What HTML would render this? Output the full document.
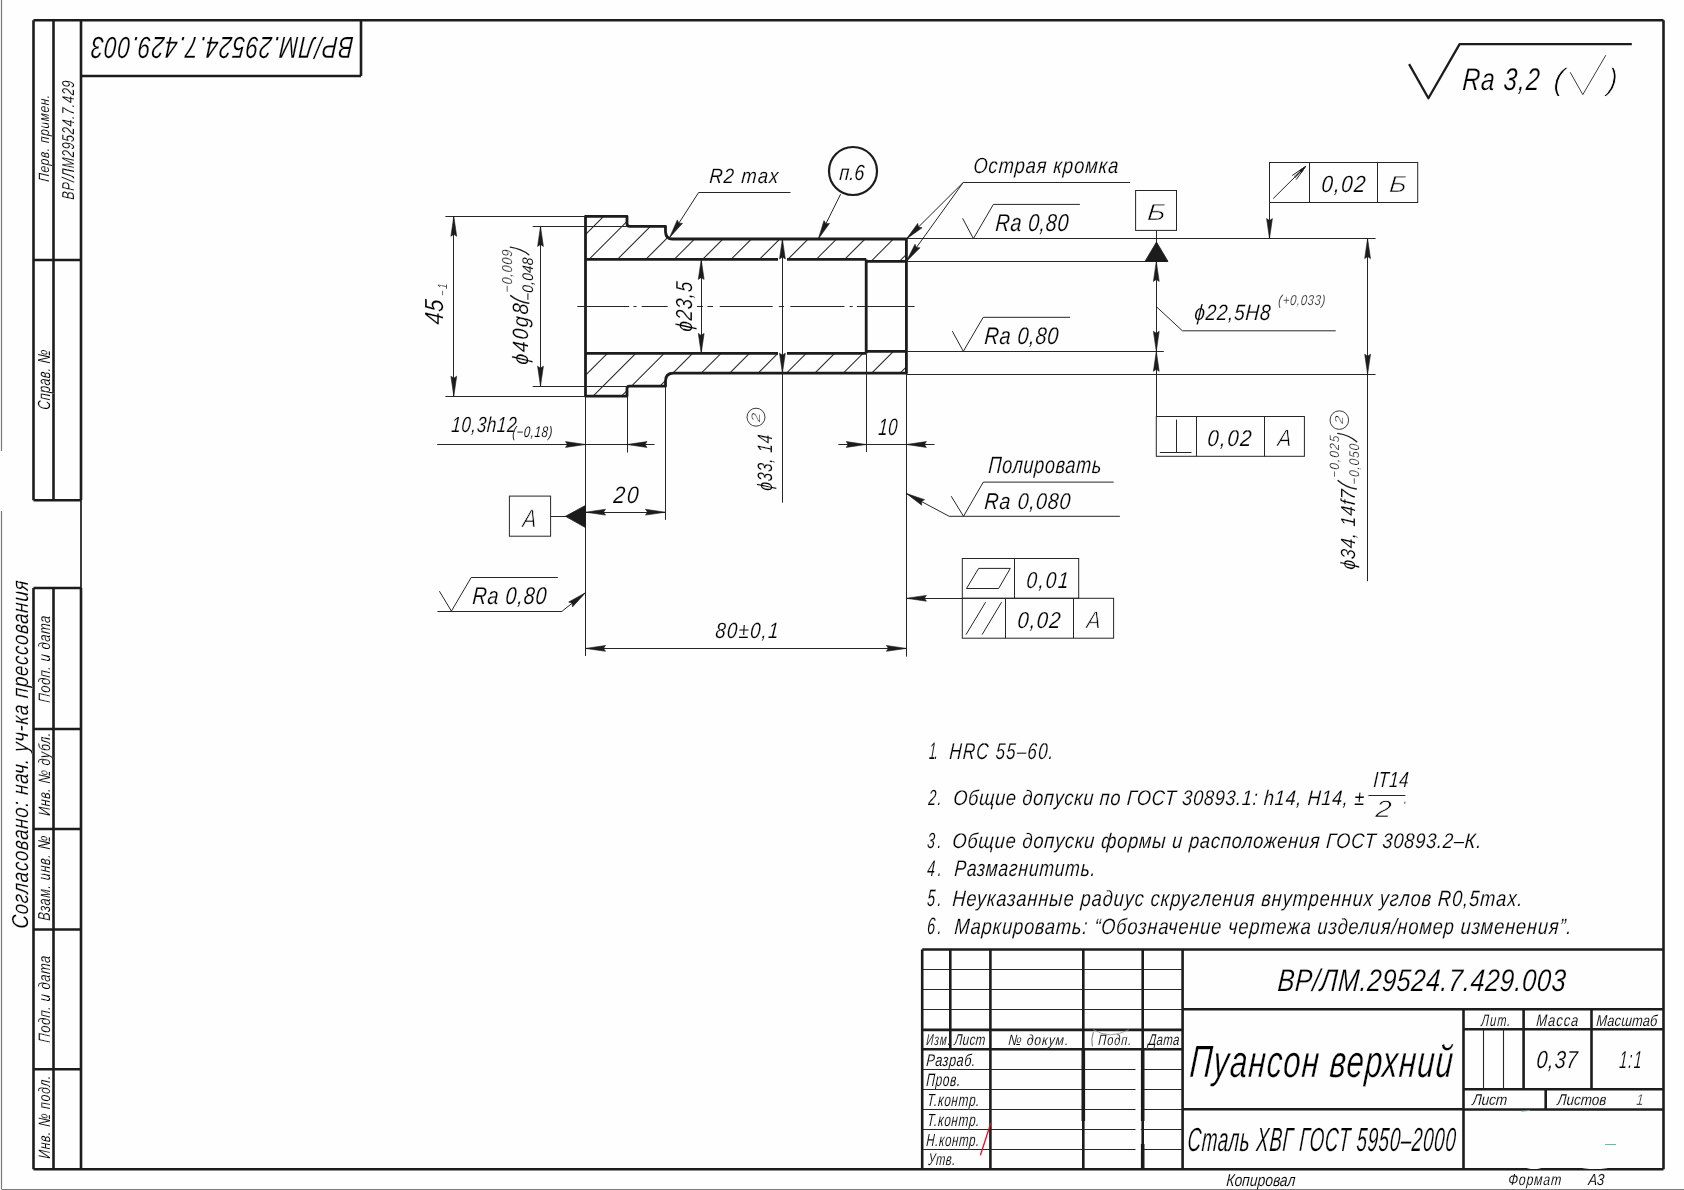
<!DOCTYPE html>
<html><head><meta charset="utf-8"><title>Drawing</title>
<style>
html,body{margin:0;padding:0;background:#fff;overflow:hidden;width:1684px;height:1190px;}
svg{display:block;will-change:transform;}
text{font-family:"Liberation Sans",sans-serif;stroke:#fefefe;paint-order:fill;}
</style></head>
<body>
<svg width="1684" height="1190" viewBox="0 0 1684 1190">
<rect x="0" y="0" width="1684" height="1190" fill="#fefefe"/>
<line x1="1.5" y1="0.0" x2="1.5" y2="451.0" stroke="#7a7a7a" stroke-width="1.2"/>
<line x1="1.5" y1="511.0" x2="1.5" y2="1189.0" stroke="#7a7a7a" stroke-width="1.2"/>
<line x1="1.5" y1="1189.5" x2="1684.0" y2="1189.5" stroke="#7a7a7a" stroke-width="1.2"/>
<line x1="81.0" y1="20.3" x2="1663.5" y2="20.3" stroke="#1c1c1c" stroke-width="2.6"/>
<line x1="1663.5" y1="20.3" x2="1663.5" y2="1169.3" stroke="#1c1c1c" stroke-width="2.6"/>
<line x1="81.0" y1="1169.3" x2="1663.5" y2="1169.3" stroke="#1c1c1c" stroke-width="2.6"/>
<line x1="81.0" y1="20.3" x2="81.0" y2="500.0" stroke="#1c1c1c" stroke-width="2.6"/>
<line x1="81.0" y1="500.0" x2="81.0" y2="588.0" stroke="#262626" stroke-width="1.8"/>
<line x1="81.0" y1="588.0" x2="81.0" y2="1169.3" stroke="#1c1c1c" stroke-width="2.6"/>
<line x1="361.0" y1="20.3" x2="361.0" y2="76.0" stroke="#1c1c1c" stroke-width="2.6"/>
<line x1="81.0" y1="76.0" x2="361.0" y2="76.0" stroke="#1c1c1c" stroke-width="2.6"/>
<line x1="33.5" y1="20.3" x2="81.0" y2="20.3" stroke="#1c1c1c" stroke-width="2.6"/>
<line x1="33.5" y1="20.3" x2="33.5" y2="500.3" stroke="#1c1c1c" stroke-width="2.6"/>
<line x1="53.5" y1="20.3" x2="53.5" y2="500.3" stroke="#1c1c1c" stroke-width="2.6"/>
<line x1="33.5" y1="260.0" x2="81.0" y2="260.0" stroke="#1c1c1c" stroke-width="2.6"/>
<line x1="33.5" y1="500.3" x2="81.0" y2="500.3" stroke="#1c1c1c" stroke-width="2.6"/>
<line x1="33.5" y1="588.0" x2="81.0" y2="588.0" stroke="#1c1c1c" stroke-width="2.6"/>
<line x1="33.5" y1="588.0" x2="33.5" y2="1169.3" stroke="#1c1c1c" stroke-width="2.6"/>
<line x1="53.5" y1="588.0" x2="53.5" y2="1169.3" stroke="#1c1c1c" stroke-width="2.6"/>
<line x1="33.5" y1="729.0" x2="81.0" y2="729.0" stroke="#1c1c1c" stroke-width="2.6"/>
<line x1="33.5" y1="829.0" x2="81.0" y2="829.0" stroke="#1c1c1c" stroke-width="2.6"/>
<line x1="33.5" y1="929.5" x2="81.0" y2="929.5" stroke="#1c1c1c" stroke-width="2.6"/>
<line x1="33.5" y1="1069.2" x2="81.0" y2="1069.2" stroke="#1c1c1c" stroke-width="2.6"/>
<line x1="33.5" y1="1169.3" x2="81.0" y2="1169.3" stroke="#1c1c1c" stroke-width="2.6"/>
<line x1="922.2" y1="949.5" x2="1663.5" y2="949.5" stroke="#1c1c1c" stroke-width="2.6"/>
<line x1="922.2" y1="949.5" x2="922.2" y2="1169.3" stroke="#1c1c1c" stroke-width="2.6"/>
<line x1="950.3" y1="949.5" x2="950.3" y2="1049.2" stroke="#1c1c1c" stroke-width="2.6"/>
<line x1="990.4" y1="949.5" x2="990.4" y2="1169.3" stroke="#1c1c1c" stroke-width="2.6"/>
<line x1="1083.3" y1="949.5" x2="1083.3" y2="1169.3" stroke="#1c1c1c" stroke-width="2.6"/>
<line x1="1142.7" y1="949.5" x2="1142.7" y2="1169.3" stroke="#1c1c1c" stroke-width="2.6"/>
<line x1="1182.6" y1="949.5" x2="1182.6" y2="1169.3" stroke="#1c1c1c" stroke-width="2.6"/>
<line x1="922.2" y1="969.5" x2="1182.6" y2="969.5" stroke="#262626" stroke-width="1.1"/>
<line x1="922.2" y1="989.5" x2="1182.6" y2="989.5" stroke="#262626" stroke-width="1.1"/>
<line x1="922.2" y1="1009.5" x2="1182.6" y2="1009.5" stroke="#262626" stroke-width="1.1"/>
<line x1="922.2" y1="1029.9" x2="1182.6" y2="1029.9" stroke="#1c1c1c" stroke-width="2.6"/>
<line x1="922.2" y1="1049.2" x2="1182.6" y2="1049.2" stroke="#1c1c1c" stroke-width="2.6"/>
<line x1="922.2" y1="1069.5" x2="1182.6" y2="1069.5" stroke="#262626" stroke-width="1.1"/>
<line x1="922.2" y1="1089.5" x2="1182.6" y2="1089.5" stroke="#262626" stroke-width="1.1"/>
<line x1="922.2" y1="1109.5" x2="1182.6" y2="1109.5" stroke="#262626" stroke-width="1.1"/>
<line x1="922.2" y1="1129.5" x2="1182.6" y2="1129.5" stroke="#262626" stroke-width="1.1"/>
<line x1="922.2" y1="1149.5" x2="1182.6" y2="1149.5" stroke="#262626" stroke-width="1.1"/>
<line x1="1182.6" y1="1009.3" x2="1663.5" y2="1009.3" stroke="#1c1c1c" stroke-width="2.6"/>
<line x1="1182.6" y1="1109.3" x2="1463.5" y2="1109.3" stroke="#1c1c1c" stroke-width="2.6"/>
<line x1="1463.5" y1="1009.3" x2="1463.5" y2="1169.3" stroke="#1c1c1c" stroke-width="2.6"/>
<line x1="1463.5" y1="1029.3" x2="1663.5" y2="1029.3" stroke="#1c1c1c" stroke-width="2.6"/>
<line x1="1463.5" y1="1089.3" x2="1663.5" y2="1089.3" stroke="#1c1c1c" stroke-width="2.6"/>
<line x1="1463.5" y1="1109.5" x2="1663.5" y2="1109.5" stroke="#1c1c1c" stroke-width="2.6"/>
<line x1="1523.6" y1="1009.3" x2="1523.6" y2="1089.3" stroke="#1c1c1c" stroke-width="2.6"/>
<line x1="1591.5" y1="1009.3" x2="1591.5" y2="1089.3" stroke="#1c1c1c" stroke-width="2.6"/>
<line x1="1483.5" y1="1029.3" x2="1483.5" y2="1089.3" stroke="#262626" stroke-width="1.1"/>
<line x1="1503.5" y1="1029.3" x2="1503.5" y2="1089.3" stroke="#262626" stroke-width="1.1"/>
<line x1="1545.7" y1="1089.3" x2="1545.7" y2="1109.5" stroke="#1c1c1c" stroke-width="2.6"/>
<line x1="1083.3" y1="1050.0" x2="1083.3" y2="1121.0" stroke="#1c1c1c" stroke-width="3.6"/>
<line x1="1142.7" y1="1050.0" x2="1142.7" y2="1121.0" stroke="#1c1c1c" stroke-width="3.6"/>
<line x1="1142.7" y1="1144.0" x2="1142.7" y2="1169.0" stroke="#1c1c1c" stroke-width="3.6"/>
<rect x="1135.5" y="1067.7" width="5.3" height="3" fill="#fefefe"/>
<rect x="1135.5" y="1087.6" width="5.3" height="3" fill="#fefefe"/>
<rect x="1135.5" y="1107.6" width="5.3" height="3" fill="#fefefe"/>
<rect x="1135.5" y="1127.5" width="5.3" height="3" fill="#fefefe"/>
<rect x="1135.5" y="1148.1" width="5.3" height="3" fill="#fefefe"/>
<path d="M1093.5,1029.8 Q1110,1040 1128.5,1029.8" fill="none" stroke="#8a8a90" stroke-width="0.8" stroke-linejoin="round" stroke-linecap="round"/>
<path d="M1093.2,1032.5 Q1090.8,1039 1092.3,1046" fill="none" stroke="#555" stroke-width="0.8" stroke-linejoin="round" stroke-linecap="round"/>
<ellipse cx="1534" cy="1167.2" rx="8" ry="1.9" fill="#fefefe"/>
<ellipse cx="1595" cy="1167.2" rx="14" ry="1.9" fill="#fefefe"/>
<line x1="1605.0" y1="1144.5" x2="1616.0" y2="1144.5" stroke="#6aa898" stroke-width="0.9"/>
<line x1="1521.5" y1="1111.3" x2="1530.0" y2="1110.3" stroke="#6aa898" stroke-width="0.9"/>
<line x1="980.4" y1="1155.3" x2="990.9" y2="1122.7" stroke="#e01020" stroke-width="1.3"/>
<defs><clipPath id="cT"><path d="M585.5,216.3 L627.0,216.3 L627.0,223.4 Q627.0,226.4 630.0,226.4 L665.5,226.4 L665.5,231.9 Q665.9,239.2 672.7,239.0 L906.4,239.0 L906.4,261.4 L866.2,261.4 L866.2,259.4 L585.5,259.4 Z"/></clipPath><clipPath id="cB"><path d="M585.5,353.4 L866.2,353.4 L866.2,351.3 L906.4,351.3 L906.4,373.2 L673.5,373.2 Q665.5,373.2 665.5,381.2 L665.5,386.2 L629.5,386.2 Q627.0,386.2 627.0,388.7 L627.0,396.2 L585.5,396.2 Z"/></clipPath></defs>
<g clip-path="url(#cT)" stroke="#262626" stroke-width="1.05"><line x1="613.2" y1="150" x2="313.2" y2="450"/><line x1="641.6" y1="150" x2="341.6" y2="450"/><line x1="670.0" y1="150" x2="370.0" y2="450"/><line x1="698.4" y1="150" x2="398.4" y2="450"/><line x1="726.8" y1="150" x2="426.8" y2="450"/><line x1="755.2" y1="150" x2="455.2" y2="450"/><line x1="783.6" y1="150" x2="483.6" y2="450"/><line x1="812.0" y1="150" x2="512.0" y2="450"/><line x1="840.4" y1="150" x2="540.4" y2="450"/><line x1="868.8" y1="150" x2="568.8" y2="450"/><line x1="897.2" y1="150" x2="597.2" y2="450"/><line x1="925.6" y1="150" x2="625.6" y2="450"/><line x1="954.0" y1="150" x2="654.0" y2="450"/><line x1="982.4" y1="150" x2="682.4" y2="450"/><line x1="1010.8" y1="150" x2="710.8" y2="450"/><line x1="1039.2" y1="150" x2="739.2" y2="450"/></g>
<g clip-path="url(#cB)" stroke="#262626" stroke-width="1.05"><line x1="725.6" y1="150" x2="425.6" y2="450"/><line x1="754.0" y1="150" x2="454.0" y2="450"/><line x1="782.4" y1="150" x2="482.4" y2="450"/><line x1="810.8" y1="150" x2="510.8" y2="450"/><line x1="839.2" y1="150" x2="539.2" y2="450"/><line x1="867.6" y1="150" x2="567.6" y2="450"/><line x1="896.0" y1="150" x2="596.0" y2="450"/><line x1="924.4" y1="150" x2="624.4" y2="450"/><line x1="952.8" y1="150" x2="652.8" y2="450"/><line x1="981.2" y1="150" x2="681.2" y2="450"/><line x1="1009.6" y1="150" x2="709.6" y2="450"/><line x1="1038.0" y1="150" x2="738.0" y2="450"/><line x1="1066.4" y1="150" x2="766.4" y2="450"/><line x1="1094.8" y1="150" x2="794.8" y2="450"/><line x1="1123.2" y1="150" x2="823.2" y2="450"/><line x1="1151.6" y1="150" x2="851.6" y2="450"/><line x1="1180.0" y1="150" x2="880.0" y2="450"/></g>
<path d="M585.5,216.3 L627.0,216.3 L627.0,223.4 Q627.0,226.4 630.0,226.4 L665.5,226.4 L665.5,231.9 Q665.9,239.2 672.7,239.0 L906.4,239.0 L906.4,373.2 L673.5,373.2 Q665.5,373.2 665.5,381.2 L665.5,386.2 L629.5,386.2 Q627.0,386.2 627.0,388.7 L627.0,396.2 L585.5,396.2 Z" fill="none" stroke="#1c1c1c" stroke-width="2.8" stroke-linejoin="round" stroke-linecap="round"/>
<line x1="585.5" y1="259.4" x2="866.2" y2="259.4" stroke="#1c1c1c" stroke-width="2.8"/>
<line x1="585.5" y1="353.4" x2="866.2" y2="353.4" stroke="#1c1c1c" stroke-width="2.8"/>
<line x1="866.2" y1="259.4" x2="866.2" y2="353.4" stroke="#1c1c1c" stroke-width="2.8"/>
<line x1="866.2" y1="261.4" x2="906.4" y2="261.4" stroke="#1c1c1c" stroke-width="2.8"/>
<line x1="866.2" y1="351.3" x2="906.4" y2="351.3" stroke="#1c1c1c" stroke-width="2.8"/>
<line x1="577.3" y1="306.5" x2="629.2" y2="306.5" stroke="#262626" stroke-width="1.0"/>
<line x1="633.4" y1="306.5" x2="636.5" y2="306.5" stroke="#262626" stroke-width="1.0"/>
<line x1="641.7" y1="306.5" x2="667.7" y2="306.5" stroke="#262626" stroke-width="1.0"/>
<line x1="697.0" y1="306.5" x2="703.0" y2="306.5" stroke="#262626" stroke-width="1.0"/>
<line x1="707.5" y1="306.5" x2="713.0" y2="306.5" stroke="#262626" stroke-width="1.0"/>
<line x1="719.7" y1="306.5" x2="772.7" y2="306.5" stroke="#262626" stroke-width="1.0"/>
<line x1="778.9" y1="306.5" x2="784.0" y2="306.5" stroke="#262626" stroke-width="1.0"/>
<line x1="790.3" y1="306.5" x2="844.4" y2="306.5" stroke="#262626" stroke-width="1.0"/>
<line x1="849.6" y1="306.5" x2="852.7" y2="306.5" stroke="#262626" stroke-width="1.0"/>
<line x1="856.9" y1="306.5" x2="914.5" y2="306.5" stroke="#262626" stroke-width="1.0"/>
<line x1="445.4" y1="216.5" x2="585.5" y2="216.5" stroke="#262626" stroke-width="1.0"/>
<line x1="445.4" y1="396.5" x2="585.5" y2="396.5" stroke="#262626" stroke-width="1.0"/>
<line x1="453.5" y1="216.3" x2="453.5" y2="396.2" stroke="#262626" stroke-width="1.0"/>
<polygon points="453.8,216.3 456.7,236.3 453.8,234.3 450.9,236.3" fill="#1c1c1c" stroke="#1c1c1c" stroke-width="0.6" stroke-linejoin="round"/>
<polygon points="453.8,396.2 450.9,376.2 453.8,378.2 456.7,376.2" fill="#1c1c1c" stroke="#1c1c1c" stroke-width="0.6" stroke-linejoin="round"/>
<line x1="532.7" y1="226.5" x2="627.0" y2="226.5" stroke="#262626" stroke-width="1.0"/>
<line x1="532.7" y1="386.5" x2="627.0" y2="386.5" stroke="#262626" stroke-width="1.0"/>
<line x1="540.5" y1="226.4" x2="540.5" y2="386.2" stroke="#262626" stroke-width="1.0"/>
<polygon points="540.5,226.4 543.4,246.4 540.5,244.4 537.6,246.4" fill="#1c1c1c" stroke="#1c1c1c" stroke-width="0.6" stroke-linejoin="round"/>
<polygon points="540.5,386.2 537.6,366.2 540.5,368.2 543.4,366.2" fill="#1c1c1c" stroke="#1c1c1c" stroke-width="0.6" stroke-linejoin="round"/>
<line x1="701.5" y1="259.4" x2="701.5" y2="353.4" stroke="#262626" stroke-width="1.0"/>
<polygon points="701.2,259.4 704.1,279.4 701.2,277.4 698.3,279.4" fill="#1c1c1c" stroke="#1c1c1c" stroke-width="0.6" stroke-linejoin="round"/>
<polygon points="701.2,353.4 698.3,333.4 701.2,335.4 704.1,333.4" fill="#1c1c1c" stroke="#1c1c1c" stroke-width="0.6" stroke-linejoin="round"/>
<rect x="778.0" y="257.2" width="9" height="4.4" fill="#fefefe"/>
<rect x="778.0" y="351.2" width="9" height="4.4" fill="#fefefe"/>
<line x1="782.5" y1="239.0" x2="782.5" y2="502.7" stroke="#262626" stroke-width="1.0"/>
<polygon points="782.4,239.0 785.3,259.0 782.4,257.0 779.5,259.0" fill="#1c1c1c" stroke="#1c1c1c" stroke-width="0.6" stroke-linejoin="round"/>
<polygon points="782.4,373.2 779.5,353.2 782.4,355.2 785.3,353.2" fill="#1c1c1c" stroke="#1c1c1c" stroke-width="0.6" stroke-linejoin="round"/>
<line x1="906.4" y1="238.5" x2="1375.6" y2="238.5" stroke="#262626" stroke-width="1.0"/>
<line x1="906.4" y1="261.5" x2="1167.5" y2="261.5" stroke="#262626" stroke-width="1.0"/>
<line x1="906.4" y1="351.5" x2="1163.8" y2="351.5" stroke="#262626" stroke-width="1.0"/>
<line x1="906.4" y1="374.5" x2="1375.6" y2="374.5" stroke="#262626" stroke-width="1.0"/>
<line x1="1156.5" y1="261.4" x2="1156.5" y2="416.5" stroke="#262626" stroke-width="1.0"/>
<polygon points="1156.3,261.4 1159.2,281.4 1156.3,279.4 1153.4,281.4" fill="#1c1c1c" stroke="#1c1c1c" stroke-width="0.6" stroke-linejoin="round"/>
<polygon points="1156.3,351.3 1153.4,331.3 1156.3,333.3 1159.2,331.3" fill="#1c1c1c" stroke="#1c1c1c" stroke-width="0.6" stroke-linejoin="round"/>
<polygon points="1156.3,351.3 1159.2,371.3 1156.3,369.3 1153.4,371.3" fill="#1c1c1c" stroke="#1c1c1c" stroke-width="0.6" stroke-linejoin="round"/>
<polyline points="1156.3,306.6 1182.4,330.8 1335.7,330.8" fill="none" stroke="#262626" stroke-width="1.0" stroke-linejoin="round"/>
<line x1="1367.5" y1="238.6" x2="1367.5" y2="581.2" stroke="#262626" stroke-width="1.0"/>
<polygon points="1367.6,238.6 1370.5,258.6 1367.6,256.6 1364.7,258.6" fill="#1c1c1c" stroke="#1c1c1c" stroke-width="0.6" stroke-linejoin="round"/>
<polygon points="1367.6,374.2 1364.7,354.2 1367.6,356.2 1370.5,354.2" fill="#1c1c1c" stroke="#1c1c1c" stroke-width="0.6" stroke-linejoin="round"/>
<rect x="1135.6" y="190.5" width="40.9" height="39.9" fill="none" stroke="#262626" stroke-width="1.0"/>
<line x1="1156.5" y1="230.4" x2="1156.5" y2="244.0" stroke="#262626" stroke-width="1.0"/>
<polygon points="1156.5,242.0 1145.0,261.4 1168.0,261.4" fill="#1c1c1c" stroke="#1c1c1c" stroke-width="0.8" stroke-linejoin="round"/>
<rect x="1269.5" y="162.5" width="148.2" height="40.0" fill="none" stroke="#262626" stroke-width="1.0"/>
<line x1="1309.5" y1="162.5" x2="1309.5" y2="202.5" stroke="#262626" stroke-width="1.0"/>
<line x1="1377.5" y1="162.5" x2="1377.5" y2="202.5" stroke="#262626" stroke-width="1.0"/>
<line x1="1273.2" y1="198.6" x2="1305.5" y2="166.5" stroke="#262626" stroke-width="1.0"/>
<polyline points="1292.2,175.5 1305.5,166.5 1296.3,179.6" fill="none" stroke="#262626" stroke-width="1.0" stroke-linejoin="round"/>
<polyline points="1294.0,176.6 1305.5,166.5 1295.2,178.0" fill="none" stroke="#262626" stroke-width="0.6" stroke-linejoin="round"/>
<polygon points="1305.5,166.5 1299.6,170.4 1301.6,172.4" fill="#1c1c1c" stroke="#1c1c1c" stroke-width="0.6" stroke-linejoin="round"/>
<line x1="1269.5" y1="202.5" x2="1269.5" y2="238.6" stroke="#262626" stroke-width="1.0"/>
<polygon points="1269.5,238.6 1266.6,218.6 1269.5,220.6 1272.4,218.6" fill="#1c1c1c" stroke="#1c1c1c" stroke-width="0.6" stroke-linejoin="round"/>
<polyline points="962.6,218.3 973.4,238.6 993.4,204.4 1079.9,204.4" fill="none" stroke="#262626" stroke-width="1.0" stroke-linejoin="round"/>
<line x1="963.3" y1="182.5" x2="1130.0" y2="182.5" stroke="#262626" stroke-width="1.0"/>
<line x1="963.3" y1="182.4" x2="906.4" y2="239.0" stroke="#262626" stroke-width="1.0"/>
<line x1="963.3" y1="182.4" x2="906.4" y2="261.4" stroke="#262626" stroke-width="1.0"/>
<polygon points="906.4,239.0 917.7,223.4 918.5,227.0 922.1,227.8" fill="#1c1c1c" stroke="#1c1c1c" stroke-width="0.6" stroke-linejoin="round"/>
<polygon points="906.4,261.4 915.0,244.2 916.3,247.6 920.0,247.8" fill="#1c1c1c" stroke="#1c1c1c" stroke-width="0.6" stroke-linejoin="round"/>
<line x1="698.6" y1="192.5" x2="790.5" y2="192.5" stroke="#262626" stroke-width="1.0"/>
<line x1="698.6" y1="192.5" x2="669.6" y2="237.6" stroke="#262626" stroke-width="1.0"/>
<polygon points="669.6,237.6 677.3,219.9 678.8,223.3 682.5,223.3" fill="#1c1c1c" stroke="#1c1c1c" stroke-width="0.6" stroke-linejoin="round"/>
<circle cx="853" cy="171" r="24" fill="none" stroke="#1c1c1c" stroke-width="2.2"/>
<line x1="840.6" y1="194.2" x2="818.3" y2="239.0" stroke="#262626" stroke-width="1.0"/>
<polygon points="818.3,239.0 824.0,220.6 825.9,223.8 829.5,223.4" fill="#1c1c1c" stroke="#1c1c1c" stroke-width="0.6" stroke-linejoin="round"/>
<polyline points="952.3,331.2 963.3,351.3 983.2,317.3 1070.1,317.3" fill="none" stroke="#262626" stroke-width="1.0" stroke-linejoin="round"/>
<rect x="1156.3" y="416.5" width="148.1" height="39.8" fill="none" stroke="#262626" stroke-width="1.0"/>
<line x1="1196.5" y1="416.5" x2="1196.5" y2="456.3" stroke="#262626" stroke-width="1.0"/>
<line x1="1264.5" y1="416.5" x2="1264.5" y2="456.3" stroke="#262626" stroke-width="1.0"/>
<line x1="1176.5" y1="419.6" x2="1176.5" y2="452.2" stroke="#262626" stroke-width="1.0"/>
<line x1="1159.8" y1="452.5" x2="1191.5" y2="452.5" stroke="#262626" stroke-width="1.0"/>
<line x1="627.5" y1="396.2" x2="627.5" y2="452.5" stroke="#262626" stroke-width="1.0"/>
<line x1="585.5" y1="396.2" x2="585.5" y2="656.0" stroke="#262626" stroke-width="1.0"/>
<line x1="437.2" y1="444.5" x2="654.5" y2="444.5" stroke="#262626" stroke-width="1.0"/>
<polygon points="585.5,444.5 565.5,447.4 567.5,444.5 565.5,441.6" fill="#1c1c1c" stroke="#1c1c1c" stroke-width="0.6" stroke-linejoin="round"/>
<polygon points="627.0,444.5 647.0,441.6 645.0,444.5 647.0,447.4" fill="#1c1c1c" stroke="#1c1c1c" stroke-width="0.6" stroke-linejoin="round"/>
<line x1="866.5" y1="353.4" x2="866.5" y2="452.0" stroke="#262626" stroke-width="1.0"/>
<line x1="906.5" y1="373.2" x2="906.5" y2="656.6" stroke="#262626" stroke-width="1.0"/>
<line x1="838.3" y1="444.5" x2="934.5" y2="444.5" stroke="#262626" stroke-width="1.0"/>
<polygon points="866.2,444.5 846.2,447.4 848.2,444.5 846.2,441.6" fill="#1c1c1c" stroke="#1c1c1c" stroke-width="0.6" stroke-linejoin="round"/>
<polygon points="906.4,444.5 926.4,441.6 924.4,444.5 926.4,447.4" fill="#1c1c1c" stroke="#1c1c1c" stroke-width="0.6" stroke-linejoin="round"/>
<line x1="665.5" y1="386.2" x2="665.5" y2="519.9" stroke="#262626" stroke-width="1.0"/>
<line x1="585.5" y1="512.5" x2="665.5" y2="512.5" stroke="#262626" stroke-width="1.0"/>
<polygon points="585.5,512.2 605.5,509.3 603.5,512.2 605.5,515.1" fill="#1c1c1c" stroke="#1c1c1c" stroke-width="0.6" stroke-linejoin="round"/>
<polygon points="665.5,512.2 645.5,515.1 647.5,512.2 645.5,509.3" fill="#1c1c1c" stroke="#1c1c1c" stroke-width="0.6" stroke-linejoin="round"/>
<rect x="509.4" y="496.1" width="41.2" height="40.1" fill="none" stroke="#262626" stroke-width="1.0"/>
<line x1="550.6" y1="516.5" x2="567.0" y2="516.5" stroke="#262626" stroke-width="1.0"/>
<polygon points="565.5,516.3 585.5,505.4 585.5,527.6" fill="#1c1c1c" stroke="#1c1c1c" stroke-width="0.8" stroke-linejoin="round"/>
<polyline points="949.2,516.3 1119.9,516.3" fill="none" stroke="#262626" stroke-width="1.0" stroke-linejoin="round"/>
<line x1="906.4" y1="493.5" x2="949.2" y2="516.3" stroke="#262626" stroke-width="1.0"/>
<polygon points="906.4,493.5 924.6,499.7 921.4,501.5 921.7,505.2" fill="#1c1c1c" stroke="#1c1c1c" stroke-width="0.6" stroke-linejoin="round"/>
<polyline points="951.2,496.2 963.5,516.3 983.3,482.1 1113.7,482.1" fill="none" stroke="#262626" stroke-width="1.0" stroke-linejoin="round"/>
<line x1="437.5" y1="611.5" x2="562.2" y2="611.5" stroke="#262626" stroke-width="1.0"/>
<line x1="562.2" y1="611.1" x2="585.5" y2="592.7" stroke="#262626" stroke-width="1.0"/>
<polygon points="585.5,592.7 572.5,606.9 572.2,603.2 568.7,602.0" fill="#1c1c1c" stroke="#1c1c1c" stroke-width="0.6" stroke-linejoin="round"/>
<polyline points="439.4,591.2 451.4,611.1 471.2,577.5 557.8,577.5" fill="none" stroke="#262626" stroke-width="1.0" stroke-linejoin="round"/>
<rect x="962.3" y="558.5" width="116.4" height="39.8" fill="none" stroke="#262626" stroke-width="1.0"/>
<line x1="1014.5" y1="558.5" x2="1014.5" y2="598.3" stroke="#262626" stroke-width="1.0"/>
<polygon points="966.5,588.5 978.6,568.4 1010.3,568.4 998.6,588.5" fill="none" stroke="#262626" stroke-width="1.0" stroke-linejoin="round"/>
<rect x="962.3" y="598.3" width="151.3" height="39.9" fill="none" stroke="#262626" stroke-width="1.0"/>
<line x1="1005.5" y1="598.3" x2="1005.5" y2="638.2" stroke="#262626" stroke-width="1.0"/>
<line x1="1073.5" y1="598.3" x2="1073.5" y2="638.2" stroke="#262626" stroke-width="1.0"/>
<line x1="966.0" y1="634.6" x2="985.6" y2="602.2" stroke="#262626" stroke-width="1.0"/>
<line x1="982.1" y1="634.6" x2="1001.6" y2="602.2" stroke="#262626" stroke-width="1.0"/>
<line x1="906.4" y1="598.5" x2="962.3" y2="598.5" stroke="#262626" stroke-width="1.0"/>
<polygon points="906.4,598.3 926.4,595.4 924.4,598.3 926.4,601.2" fill="#1c1c1c" stroke="#1c1c1c" stroke-width="0.6" stroke-linejoin="round"/>
<line x1="585.5" y1="648.5" x2="906.4" y2="648.5" stroke="#262626" stroke-width="1.0"/>
<polygon points="585.5,648.4 605.5,645.5 603.5,648.4 605.5,651.3" fill="#1c1c1c" stroke="#1c1c1c" stroke-width="0.6" stroke-linejoin="round"/>
<polygon points="906.4,648.4 886.4,651.3 888.4,648.4 886.4,645.5" fill="#1c1c1c" stroke="#1c1c1c" stroke-width="0.6" stroke-linejoin="round"/>
<polyline points="1409.1,64.1 1428.4,98.3 1459.6,44.1 1631.8,44.1" fill="none" stroke="#1c1c1c" stroke-width="2.3" stroke-linejoin="round"/>
<polyline points="1570.2,72.3 1582.8,94.6 1605.8,55.2" fill="none" stroke="#262626" stroke-width="0.9" stroke-linejoin="round"/>
<circle cx="756" cy="417.2" r="9" fill="none" stroke="#262626" stroke-width="0.9"/>
<circle cx="1339.3" cy="420.1" r="9.3" fill="none" stroke="#262626" stroke-width="0.9"/>
<line x1="1368.4" y1="795.5" x2="1405.4" y2="795.5" stroke="#262626" stroke-width="1.0"/>
<text id="t0" transform="translate(708.97,182.50) skewX(-4) scale(0.880,1)" font-size="20.89" font-style="italic" fill="#000" stroke-width="0.14" textLength="78.47" lengthAdjust="spacing">R2 max</text>
<text id="t1" transform="translate(839.00,179.80) skewX(-4) scale(0.817,1)" font-size="21.99" font-style="italic" fill="#000" stroke-width="0.15" textLength="30.69" lengthAdjust="spacing">п.6</text>
<text id="t2" transform="translate(972.96,172.80) skewX(-4) scale(0.835,1)" font-size="21.95" font-style="italic" fill="#000" stroke-width="0.15" textLength="173.68" lengthAdjust="spacing">Острая кромка</text>
<text id="t3" transform="translate(994.99,230.70) skewX(-4) scale(0.808,1)" font-size="24.52" font-style="italic" fill="#000" stroke-width="0.17" textLength="90.38" lengthAdjust="spacing">Ra 0,80</text>
<text id="t4" transform="translate(1146.75,220.00) skewX(-4)" font-size="23.16" font-style="italic" fill="#000" stroke-width="0.64" textLength="18.35" lengthAdjust="spacingAndGlyphs">Б</text>
<text id="t5" transform="translate(1320.97,192.00) skewX(-4) scale(0.880,1)" font-size="23.43" font-style="italic" fill="#000" stroke-width="0.16" textLength="50.06" lengthAdjust="spacing">0,02</text>
<text id="t6" transform="translate(1388.75,192.00) skewX(-4)" font-size="23.16" font-style="italic" fill="#000" stroke-width="0.64" textLength="17.36" lengthAdjust="spacingAndGlyphs">Б</text>
<text id="t7" transform="translate(1193.98,319.70) skewX(-4) scale(0.855,1)" font-size="22.23" font-style="italic" fill="#000" stroke-width="0.15" textLength="88.93" lengthAdjust="spacing">ϕ22,5H8</text>
<text id="t8" transform="translate(1277.99,304.60) skewX(-4) scale(0.789,1)" font-size="14.50" font-style="italic" fill="#000" stroke-width="0.30" textLength="59.63" lengthAdjust="spacing">(+0,033)</text>
<text id="t9" transform="translate(983.96,343.60) skewX(-4) scale(0.835,1)" font-size="24.04" font-style="italic" fill="#000" stroke-width="0.17" textLength="88.67" lengthAdjust="spacing">Ra 0,80</text>
<text id="t10" transform="translate(1206.96,446.20) skewX(-4) scale(0.880,1)" font-size="22.96" font-style="italic" fill="#000" stroke-width="0.16" textLength="50.03" lengthAdjust="spacing">0,02</text>
<text id="t11" transform="translate(1277.00,446.20) skewX(-4)" font-size="23.80" font-style="italic" fill="#000" stroke-width="0.65" textLength="14.12" lengthAdjust="spacingAndGlyphs">A</text>
<text id="t12" transform="translate(450.97,432.00) skewX(-4) scale(0.772,1)" font-size="21.86" font-style="italic" fill="#000" stroke-width="0.15" textLength="84.25" lengthAdjust="spacing">10,3h12</text>
<text id="t13" transform="translate(511.98,436.50) skewX(-4) scale(0.758,1)" font-size="15.26" font-style="italic" fill="#000" stroke-width="0.10" textLength="52.81" lengthAdjust="spacing">(−0,18)</text>
<text id="t14" transform="translate(877.95,434.50) skewX(-4) scale(0.696,1)" font-size="23.78" font-style="italic" fill="#000" stroke-width="0.16" textLength="27.43" lengthAdjust="spacing">10</text>
<text id="t15" transform="translate(613.00,503.00) skewX(-4) scale(0.880,1)" font-size="23.76" font-style="italic" fill="#000" stroke-width="0.16" textLength="28.50" lengthAdjust="spacing">20</text>
<text id="t16" transform="translate(521.96,526.60) skewX(-4)" font-size="24.95" font-style="italic" fill="#000" stroke-width="0.69" textLength="14.09" lengthAdjust="spacingAndGlyphs">A</text>
<text id="t17" transform="translate(988.00,473.00) skewX(-4) scale(0.763,1)" font-size="23.57" font-style="italic" fill="#000" stroke-width="0.16" textLength="148.12" lengthAdjust="spacing">Полировать</text>
<text id="t18" transform="translate(984.00,509.20) skewX(-4) scale(0.860,1)" font-size="22.89" font-style="italic" fill="#000" stroke-width="0.16" textLength="100.01" lengthAdjust="spacing">Ra 0,080</text>
<text id="t19" transform="translate(471.98,603.60) skewX(-4) scale(0.816,1)" font-size="24.30" font-style="italic" fill="#000" stroke-width="0.17" textLength="90.73" lengthAdjust="spacing">Ra 0,80</text>
<text id="t20" transform="translate(1025.92,587.60) skewX(-4) scale(0.828,1)" font-size="23.05" font-style="italic" fill="#000" stroke-width="0.16" textLength="50.88" lengthAdjust="spacing">0,01</text>
<text id="t21" transform="translate(1016.97,627.60) skewX(-4) scale(0.880,1)" font-size="23.05" font-style="italic" fill="#000" stroke-width="0.16" textLength="48.88" lengthAdjust="spacing">0,02</text>
<text id="t22" transform="translate(1085.93,627.60) skewX(-4)" font-size="23.93" font-style="italic" fill="#000" stroke-width="0.66" textLength="14.24" lengthAdjust="spacingAndGlyphs">A</text>
<text id="t23" transform="translate(714.95,638.40) skewX(-4) scale(0.843,1)" font-size="22.04" font-style="italic" fill="#000" stroke-width="0.15" textLength="74.82" lengthAdjust="spacing">80±0,1</text>
<text id="t24" transform="translate(1462.02,90.10) skewX(-4) scale(0.771,1)" font-size="31.37" font-style="italic" fill="#000" stroke-width="0.22" textLength="99.89" lengthAdjust="spacing">Ra 3,2</text>
<text id="t25" transform="translate(1552.84,90.10) skewX(-4)" font-size="31.36" font-style="italic" fill="#000" stroke-width="0.86" textLength="11.33" lengthAdjust="spacingAndGlyphs">(</text>
<text id="t26" transform="translate(1606.75,90.10) skewX(-4)" font-size="31.36" font-style="italic" fill="#000" stroke-width="0.86" textLength="10.23" lengthAdjust="spacingAndGlyphs">)</text>
<text id="t27" transform="translate(928.74,758.60) skewX(-4) scale(0.500,1)" font-size="23.87" font-style="italic" fill="#000" stroke-width="0.16" textLength="17.40" lengthAdjust="spacing">1.</text>
<text id="t28" transform="translate(948.97,758.60) skewX(-4) scale(0.735,1)" font-size="22.99" font-style="italic" fill="#000" stroke-width="0.16" textLength="141.62" lengthAdjust="spacing">HRC 55–60.</text>
<text id="t29" transform="translate(927.94,805.40) skewX(-4) scale(0.637,1)" font-size="21.97" font-style="italic" fill="#000" stroke-width="0.15" textLength="20.69" lengthAdjust="spacing">2.</text>
<text id="t30" transform="translate(953.00,805.40) skewX(-4) scale(0.856,1)" font-size="21.22" font-style="italic" fill="#000" stroke-width="0.15" textLength="480.17" lengthAdjust="spacing">Общие допуски по ГОСТ 30893.1: h14, H14, ±</text>
<text id="t31" transform="translate(1372.91,787.00) skewX(-4) scale(0.776,1)" font-size="21.80" font-style="italic" fill="#000" stroke-width="0.15" textLength="45.35" lengthAdjust="spacing">IT14</text>
<text id="t32" transform="translate(1375.00,816.50) skewX(-4)" font-size="23.79" font-style="italic" fill="#000" stroke-width="0.65" textLength="16.00" lengthAdjust="spacingAndGlyphs">2</text>
<text id="t33" transform="translate(1403.50,804.00) skewX(-4)" font-size="23.26" font-style="italic" fill="#000" stroke-width="0.64" textLength="3.50" lengthAdjust="spacingAndGlyphs">.</text>
<text id="t34" transform="translate(926.84,848.40) skewX(-4) scale(0.637,1)" font-size="21.97" font-style="italic" fill="#000" stroke-width="0.15" textLength="22.58" lengthAdjust="spacing">3.</text>
<text id="t35" transform="translate(951.99,848.40) skewX(-4) scale(0.861,1)" font-size="21.22" font-style="italic" fill="#000" stroke-width="0.15" textLength="614.41" lengthAdjust="spacing">Общие допуски формы и расположения ГОСТ 30893.2–К.</text>
<text id="t36" transform="translate(926.83,876.30) skewX(-4) scale(0.623,1)" font-size="22.72" font-style="italic" fill="#000" stroke-width="0.16" textLength="23.58" lengthAdjust="spacing">4.</text>
<text id="t37" transform="translate(953.97,876.30) skewX(-4) scale(0.771,1)" font-size="22.72" font-style="italic" fill="#000" stroke-width="0.16" textLength="182.94" lengthAdjust="spacing">Размагнитить.</text>
<text id="t38" transform="translate(926.84,905.60) skewX(-4) scale(0.596,1)" font-size="23.86" font-style="italic" fill="#000" stroke-width="0.16" textLength="24.13" lengthAdjust="spacing">5.</text>
<text id="t39" transform="translate(952.00,905.60) skewX(-4) scale(0.820,1)" font-size="22.16" font-style="italic" fill="#000" stroke-width="0.15" textLength="695.09" lengthAdjust="spacing">Неуказанные радиус скругления внутренних углов R0,5max.</text>
<text id="t40" transform="translate(926.65,933.50) skewX(-4) scale(0.605,1)" font-size="23.78" font-style="italic" fill="#000" stroke-width="0.16" textLength="23.99" lengthAdjust="spacing">6.</text>
<text id="t41" transform="translate(953.99,933.50) skewX(-4) scale(0.827,1)" font-size="22.06" font-style="italic" fill="#000" stroke-width="0.15" textLength="746.06" lengthAdjust="spacing">Маркировать: “Обозначение чертежа изделия/номер изменения”.</text>
<text id="t42" transform="translate(1277.00,991.40) skewX(-4) scale(0.811,1)" font-size="31.32" font-style="italic" fill="#000" stroke-width="0.22" textLength="355.20" lengthAdjust="spacing">ВР/ЛМ.29524.7.429.003</text>
<text id="t43" transform="translate(1188.99,1076.60) skewX(-4) scale(0.682,1)" font-size="45.18" font-style="italic" fill="#000" stroke-width="0.31" textLength="385.68" lengthAdjust="spacing">Пуансон верхний</text>
<text id="t44" transform="translate(1186.98,1151.00) skewX(-4) scale(0.559,1)" font-size="33.43" font-style="italic" fill="#000" stroke-width="0.23" textLength="479.55" lengthAdjust="spacing">Сталь ХВГ ГОСТ 5950–2000</text>
<text id="t45" transform="translate(1225.99,1185.80) skewX(-4) scale(0.815,1)" font-size="17.09" font-style="italic" fill="#000" stroke-width="0.12" textLength="84.69" lengthAdjust="spacing">Копировал</text>
<text id="t46" transform="translate(1507.98,1185.00) skewX(-4) scale(0.770,1)" font-size="15.99" font-style="italic" fill="#000" stroke-width="0.11" textLength="68.86" lengthAdjust="spacing">Формат</text>
<text id="t47" transform="translate(1587.88,1185.00) skewX(-4) scale(0.840,1)" font-size="15.99" font-style="italic" fill="#000" stroke-width="0.11" textLength="19.25" lengthAdjust="spacing">А3</text>
<text id="t48" transform="translate(1480.97,1025.50) skewX(-4) scale(0.663,1)" font-size="16.56" font-style="italic" fill="#000" stroke-width="0.11" textLength="44.02" lengthAdjust="spacing">Лит.</text>
<text id="t49" transform="translate(1535.96,1025.50) skewX(-4) scale(0.780,1)" font-size="16.56" font-style="italic" fill="#000" stroke-width="0.11" textLength="53.88" lengthAdjust="spacing">Масса</text>
<text id="t50" transform="translate(1596.01,1025.50) skewX(-4) scale(0.823,1)" font-size="15.68" font-style="italic" fill="#000" stroke-width="0.11" textLength="74.18" lengthAdjust="spacing">Масштаб</text>
<text id="t51" transform="translate(1536.03,1067.80) skewX(-4) scale(0.809,1)" font-size="24.59" font-style="italic" fill="#000" stroke-width="0.17" textLength="50.72" lengthAdjust="spacing">0,37</text>
<text id="t52" transform="translate(1618.94,1067.80) skewX(-4) scale(0.559,1)" font-size="24.59" font-style="italic" fill="#000" stroke-width="0.17" textLength="39.65" lengthAdjust="spacing">1:1</text>
<text id="t53" transform="translate(1471.97,1105.40) skewX(-4) scale(0.880,1)" font-size="15.58" font-style="italic" fill="#000" stroke-width="0.11" textLength="39.80" lengthAdjust="spacing">Лист</text>
<text id="t54" transform="translate(1556.98,1105.40) skewX(-4) scale(0.860,1)" font-size="15.58" font-style="italic" fill="#000" stroke-width="0.11" textLength="57.03" lengthAdjust="spacing">Листов</text>
<text id="t55" transform="translate(1636.00,1105.40) skewX(-4)" font-size="15.58" font-style="italic" fill="#000" stroke-width="0.43" textLength="7.21" lengthAdjust="spacingAndGlyphs">1</text>
<text id="t56" transform="translate(925.96,1045.40) skewX(-4) scale(0.641,1)" font-size="15.66" font-style="italic" fill="#000" stroke-width="0.11" textLength="37.76" lengthAdjust="spacing">Изм.</text>
<text id="t57" transform="translate(953.97,1045.40) skewX(-4) scale(0.749,1)" font-size="15.66" font-style="italic" fill="#000" stroke-width="0.11" textLength="41.52" lengthAdjust="spacing">Лист</text>
<text id="t58" transform="translate(1007.98,1045.40) skewX(-4) scale(0.824,1)" font-size="14.91" font-style="italic" fill="#000" stroke-width="0.10" textLength="72.92" lengthAdjust="spacing">№ докум.</text>
<text id="t59" transform="translate(1098.00,1045.40) skewX(-4) scale(0.735,1)" font-size="14.91" font-style="italic" fill="#000" stroke-width="0.10" textLength="45.05" lengthAdjust="spacing">Подп.</text>
<text id="t60" transform="translate(1147.92,1045.40) skewX(-4) scale(0.731,1)" font-size="15.66" font-style="italic" fill="#000" stroke-width="0.11" textLength="42.54" lengthAdjust="spacing">Дата</text>
<text id="t61" transform="translate(926.00,1065.60) skewX(-4) scale(0.739,1)" font-size="17.21" font-style="italic" fill="#000" stroke-width="0.12" textLength="66.43" lengthAdjust="spacing">Разраб.</text>
<text id="t62" transform="translate(925.97,1085.60) skewX(-4) scale(0.657,1)" font-size="18.08" font-style="italic" fill="#000" stroke-width="0.12" textLength="51.91" lengthAdjust="spacing">Пров.</text>
<text id="t63" transform="translate(926.92,1105.90) skewX(-4) scale(0.678,1)" font-size="17.40" font-style="italic" fill="#000" stroke-width="0.12" textLength="77.01" lengthAdjust="spacing">Т.контр.</text>
<text id="t64" transform="translate(926.92,1125.90) skewX(-4) scale(0.678,1)" font-size="17.40" font-style="italic" fill="#000" stroke-width="0.12" textLength="77.01" lengthAdjust="spacing">Т.контр.</text>
<text id="t65" transform="translate(925.97,1145.80) skewX(-4) scale(0.661,1)" font-size="17.35" font-style="italic" fill="#000" stroke-width="0.12" textLength="80.27" lengthAdjust="spacing">Н.контр.</text>
<text id="t66" transform="translate(927.97,1165.20) skewX(-4) scale(0.660,1)" font-size="16.81" font-style="italic" fill="#000" stroke-width="0.12" textLength="41.20" lengthAdjust="spacing">Утв.</text>
<text id="t67" transform="translate(443.00,325.00) rotate(-90) skewX(-4) scale(0.843,1)" font-size="26.16" font-style="italic" fill="#000" stroke-width="0.18" textLength="29.76" lengthAdjust="spacing">45</text>
<text id="t68" transform="translate(446.50,296.25) rotate(-90) skewX(-4) scale(0.699,1)" font-size="13.34" font-style="italic" fill="#000" stroke-width="0.28" textLength="17.90" lengthAdjust="spacing">−1</text>
<text id="t69" transform="translate(527.80,365.03) rotate(-90) skewX(-4) scale(0.880,1)" font-size="22.15" font-style="italic" fill="#000" stroke-width="0.15" textLength="69.36" lengthAdjust="spacing">ϕ40g8</text>
<text id="t70" transform="translate(512.40,293.05) rotate(-90) skewX(-4) scale(0.880,1)" font-size="14.42" font-style="italic" fill="#000" stroke-width="0.30" textLength="48.92" lengthAdjust="spacing">−0,009</text>
<text id="t71" transform="translate(532.60,301.03) rotate(-90) skewX(-4) scale(0.877,1)" font-size="15.41" font-style="italic" fill="#000" stroke-width="0.11" textLength="49.06" lengthAdjust="spacing">−0,048</text>
<path d="M510.6,295.6 Q518.2,301.7 528.8,303.2" fill="none" stroke="#1c1c1c" stroke-width="1.4" stroke-linejoin="round" stroke-linecap="round"/>
<path d="M510.3,247.1 Q521.4,248.8 528.8,254.7" fill="none" stroke="#1c1c1c" stroke-width="1.4" stroke-linejoin="round" stroke-linecap="round"/>
<text id="t72" transform="translate(691.50,332.01) rotate(-90) skewX(-4) scale(0.816,1)" font-size="23.16" font-style="italic" fill="#000" stroke-width="0.16" textLength="61.30" lengthAdjust="spacing">ϕ23,5</text>
<text id="t73" transform="translate(771.80,491.02) rotate(-90) skewX(-4) scale(0.747,1)" font-size="20.86" font-style="italic" fill="#000" stroke-width="0.14" textLength="75.03" lengthAdjust="spacing">ϕ33, 14</text>
<text id="t74" transform="translate(1355.20,570.03) rotate(-90) skewX(-4) scale(0.880,1)" font-size="20.38" font-style="italic" fill="#000" stroke-width="0.14" textLength="90.97" lengthAdjust="spacing">ϕ34, 14f7</text>
<text id="t75" transform="translate(1339.40,478.02) rotate(-90) skewX(-4) scale(0.880,1)" font-size="13.47" font-style="italic" fill="#000" stroke-width="0.28" textLength="47.79" lengthAdjust="spacing">−0,025</text>
<text id="t76" transform="translate(1359.20,485.04) rotate(-90) skewX(-4) scale(0.856,1)" font-size="14.13" font-style="italic" fill="#000" stroke-width="0.29" textLength="47.98" lengthAdjust="spacing">−0,050</text>
<path d="M1338.0,480.6 Q1345.5,487.5 1356.3,489.0" fill="none" stroke="#1c1c1c" stroke-width="1.4" stroke-linejoin="round" stroke-linecap="round"/>
<path d="M1337.8,433.4 Q1349.0,435.0 1356.7,441.7" fill="none" stroke="#1c1c1c" stroke-width="1.4" stroke-linejoin="round" stroke-linecap="round"/>
<text id="t77" transform="translate(759.50,422.16) rotate(-90) skewX(-4)" font-size="12.25" font-style="italic" fill="#000" stroke-width="0.34" textLength="9.16" lengthAdjust="spacingAndGlyphs">2</text>
<text id="t78" transform="translate(1343.00,424.05) rotate(-90) skewX(-4)" font-size="11.63" font-style="italic" fill="#000" stroke-width="0.32" textLength="8.14" lengthAdjust="spacingAndGlyphs">2</text>
<text id="t79" transform="translate(49.40,182.02) rotate(-90) skewX(-4) scale(0.790,1)" font-size="14.80" font-style="italic" fill="#000" stroke-width="0.10" textLength="110.22" lengthAdjust="spacing">Перв. примен.</text>
<text id="t80" transform="translate(73.50,200.01) rotate(-90) skewX(-4) scale(0.725,1)" font-size="17.24" font-style="italic" fill="#000" stroke-width="0.12" textLength="164.14" lengthAdjust="spacing">ВР/ЛМ29524.7.429</text>
<text id="t81" transform="translate(49.80,410.02) rotate(-90) skewX(-4) scale(0.724,1)" font-size="17.49" font-style="italic" fill="#000" stroke-width="0.12" textLength="82.89" lengthAdjust="spacing">Справ. №</text>
<text id="t82" transform="translate(49.80,703.01) rotate(-90) skewX(-4) scale(0.779,1)" font-size="16.53" font-style="italic" fill="#000" stroke-width="0.11" textLength="111.71" lengthAdjust="spacing">Подп. и дата</text>
<text id="t83" transform="translate(49.80,816.00) rotate(-90) skewX(-4) scale(0.745,1)" font-size="16.53" font-style="italic" fill="#000" stroke-width="0.11" textLength="111.49" lengthAdjust="spacing">Инв. № дубл.</text>
<text id="t84" transform="translate(49.80,921.02) rotate(-90) skewX(-4) scale(0.731,1)" font-size="17.34" font-style="italic" fill="#000" stroke-width="0.12" textLength="116.29" lengthAdjust="spacing">Взам. инв. №</text>
<text id="t85" transform="translate(49.80,1043.01) rotate(-90) skewX(-4) scale(0.779,1)" font-size="16.53" font-style="italic" fill="#000" stroke-width="0.11" textLength="111.71" lengthAdjust="spacing">Подп. и дата</text>
<text id="t86" transform="translate(49.80,1159.00) rotate(-90) skewX(-4) scale(0.739,1)" font-size="16.53" font-style="italic" fill="#000" stroke-width="0.11" textLength="112.39" lengthAdjust="spacing">Инв. № подл.</text>
<text id="t87" transform="translate(27.70,929.00) rotate(-90) skewX(-4) scale(0.817,1)" font-size="23.07" font-style="italic" fill="#000" stroke-width="0.16" textLength="426.02" lengthAdjust="spacing">Согласовано: нач. уч-ка прессования</text>
<text id="t88" transform="translate(354.00,36.50) rotate(180) skewX(-4) scale(0.735,1)" font-size="30.45" font-style="italic" fill="#000" stroke-width="0.21" textLength="356.41" lengthAdjust="spacing">ВР/ЛМ.29524.7.429.003</text>
</svg>
</body></html>
